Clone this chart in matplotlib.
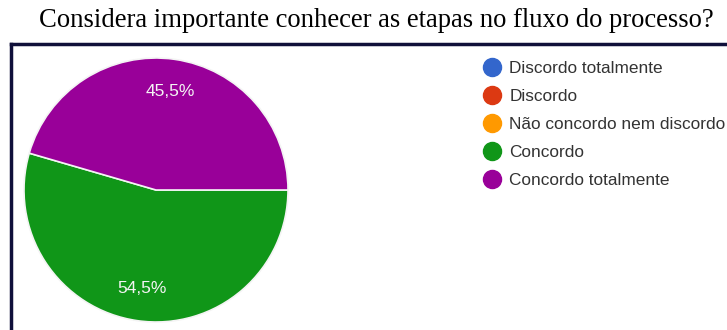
import matplotlib
matplotlib.use("Agg")
import matplotlib.pyplot as plt
from matplotlib.lines import Line2D

# === Data ===
title = "Considera importante conhecer as etapas no fluxo do processo?"
categories = ["Discordo totalmente", "Discordo", "Não concordo nem discordo",
              "Concordo", "Concordo totalmente"]
values = [0.0, 0.0, 0.0, 54.5, 45.5]
colors = ["#3366cc", "#dc3912", "#ff9900", "#109618", "#990099"]

W, H = 727, 330
fig = plt.figure(figsize=(W / 100, H / 100), dpi=100)
fig.patch.set_facecolor("white")

# title (serif, almost reaching the right edge like the screenshot)
fig.text(39 / W, 1 - 27 / H, title, family="Liberation Serif", fontsize=19.2,
         ha="left", va="baseline", color="black")

# dark frame: left and top edges only
frame_col = "#10103a"
fig.add_artist(Line2D([11 / W, 11 / W], [0, 1 - 44 / H], color=frame_col, lw=2.5))
fig.add_artist(Line2D([11 / W, 1.0], [1 - 44 / H, 1 - 44 / H], color=frame_col, lw=2.5))

# pie
cx, cy, r = 156, 190, 132
ax = fig.add_axes([(cx - r) / W, (H - cy - r) / H, 2 * r / W, 2 * r / H])


def pct(p):
    return f"{p:.1f}%".replace(".", ",") if p > 0 else ""


wedges, texts, autotexts = ax.pie(values, colors=colors, startangle=0, counterclock=False,
                                  autopct=pct, pctdistance=0.75,
                                  wedgeprops=dict(edgecolor="#f4f4f4", linewidth=1.2))
for t in autotexts:
    t.set_color("#f4f4f4")
    t.set_fontsize(12.5)
    t.set_family("Liberation Sans")
ax.set_aspect("equal")
ax.set_xlim(-1, 1)
ax.set_ylim(-1, 1)

# legend with round markers
handles = [Line2D([], [], marker="o", linestyle="", markersize=13,
                  markerfacecolor=c, markeredgecolor=c) for c in colors]
leg = fig.legend(handles, categories, loc="upper left",
                 bbox_to_anchor=(484 / W, 1 - 61 / H), frameon=False,
                 prop={"family": "Liberation Sans", "size": 12.4},
                 labelcolor="#333333", borderpad=0, borderaxespad=0,
                 handlelength=0.96, handletextpad=0.52, labelspacing=0.75)

fig.savefig("out.png", dpi=100)
